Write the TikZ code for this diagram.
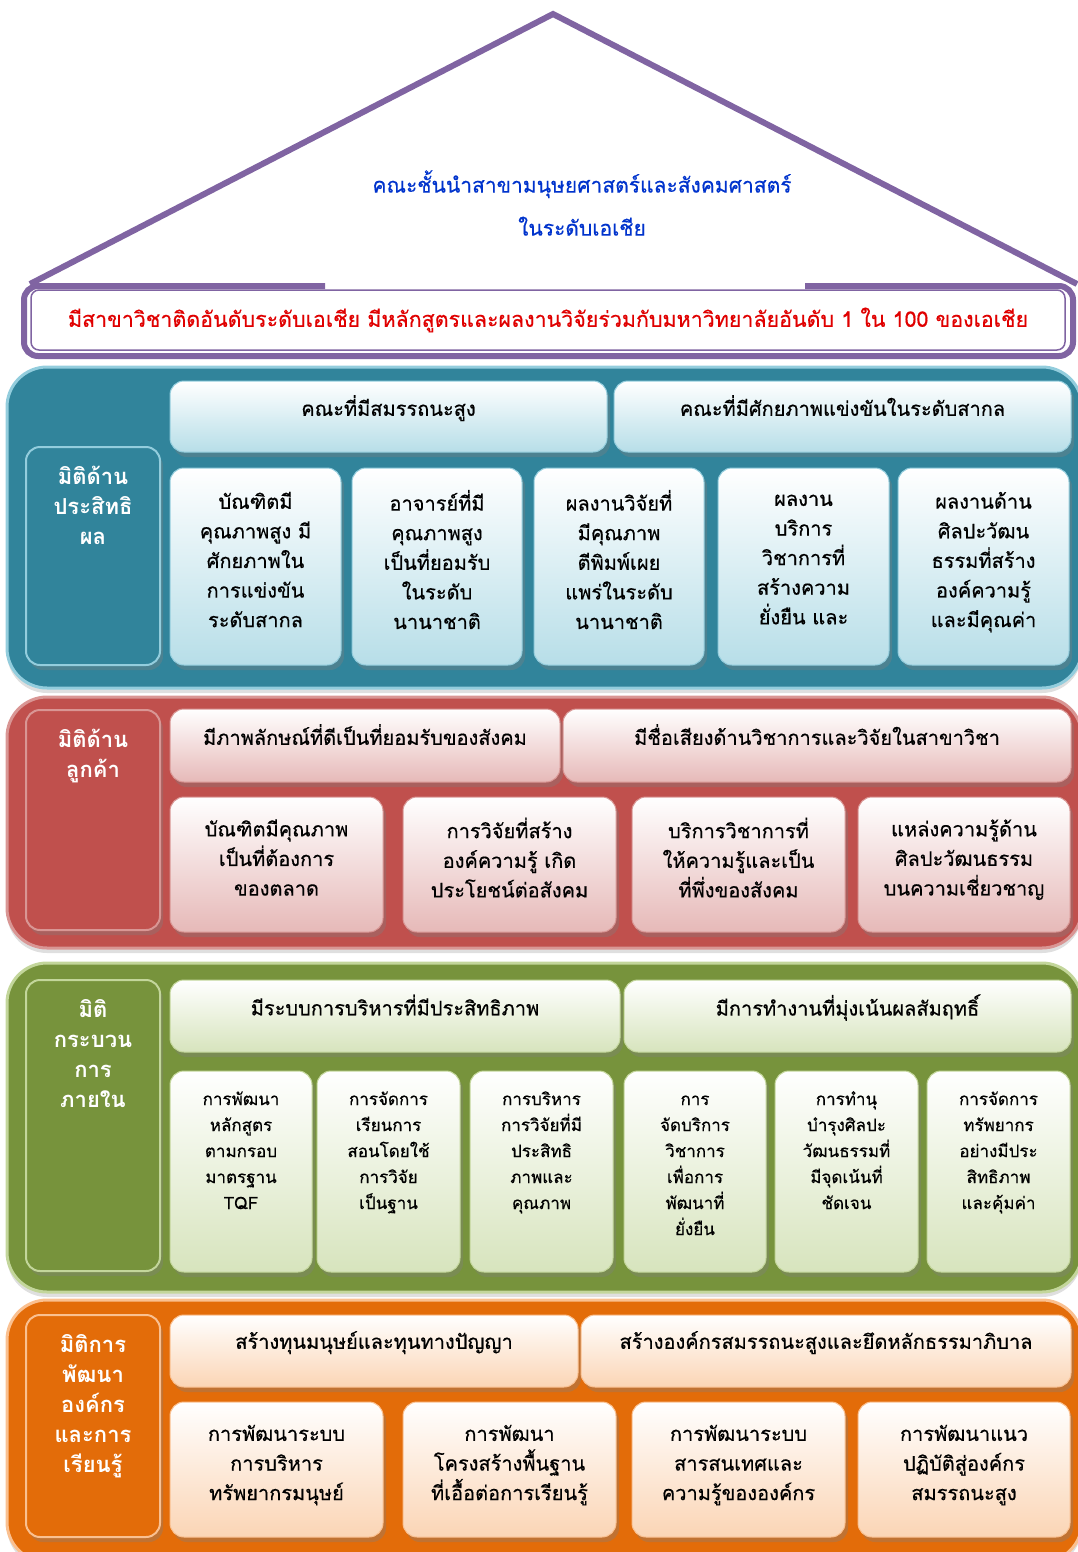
\documentclass[tikz,border=0pt]{standalone}
\usepackage{fontspec}
\newfontfamily\thaifont[Script=Thai]{Loma}
\newfontfamily\thaitxt[Script=Thai,FakeBold=0.5]{Loma}
\usetikzlibrary{positioning}
\usetikzlibrary{shadows}

\definecolor{purp}{HTML}{8064A2}
\definecolor{ttl}{HTML}{0033CC}
\definecolor{rtxt}{HTML}{E00000}
\definecolor{bB}{HTML}{31849B}
\definecolor{bL}{HTML}{B7DEE8}
\definecolor{bE}{HTML}{93CDDD}
\definecolor{rB}{HTML}{C0504D}
\definecolor{rL}{HTML}{E6B9B8}
\definecolor{rE}{HTML}{D99694}
\definecolor{gB}{HTML}{77933C}
\definecolor{gL}{HTML}{D7E4BD}
\definecolor{gE}{HTML}{C3D69B}
\definecolor{oB}{HTML}{E36C09}
\definecolor{oL}{HTML}{FBD5B5}
\definecolor{oE}{HTML}{FAC090}

\newcommand{\fst}{\rule{0pt}{20pt}}
\newcommand{\gst}{\rule{0pt}{17pt}}

\begin{document}
\begin{tikzpicture}[x=1pt,y=-1pt,
  roof/.style={draw=purp,line width=6pt},
  vision/.style={align=center,text=ttl,font=\thaitxt\fontsize{21}{43}\selectfont},
  goal/.style={draw=purp,line width=1.5pt,fill=white,rounded corners=8pt,text=rtxt,font=\thaitxt\fontsize{21.4}{24}\selectfont},
  band/.style={rounded corners=40pt,line width=3pt,drop shadow={shadow xshift=0pt,shadow yshift=-5pt,opacity=0.25}},
  panel/.style={rounded corners=14pt,line width=2pt,minimum width=134pt,drop shadow={shadow xshift=3pt,shadow yshift=-5pt,opacity=0.35}},
  lbl/.style={align=center,text=white,font=\thaifont\bfseries\fontsize{22}{30}\selectfont},
  box/.style={rounded corners=14pt,line width=1pt,align=center,drop shadow={shadow xshift=3pt,shadow yshift=-5pt,opacity=0.35},font=\thaitxt\fontsize{20}{29.6}\selectfont,execute at end node={\rule[-14pt]{0pt}{0pt}}},
  hdr/.style={execute at end node={\rule[-22pt]{0pt}{0pt}}},
  boxB/.style={box,top color=white,bottom color=bL,draw=bE},
  boxR/.style={box,top color=white,bottom color=rL,draw=rE},
  boxG/.style={box,top color=white,bottom color=gL,draw=gE},
  boxO/.style={box,top color=white,bottom color=oL,draw=oE},
  gtxt/.style={align=center,font=\thaitxt\fontsize{17}{26}\selectfont}]
\useasboundingbox (0,0) rectangle (1077,1552);

% roof and goal
\coordinate (apex) at (553,14);
\coordinate (eaveL) at (30,284);
\coordinate (eaveR) at (1077,284);
\draw[roof] (eaveL) -- (apex) -- (eaveR);
\node[vision] (vision) at (582,203) {คณะชั้นนำสาขามนุษยศาสตร์และสังคมศาสตร์\\ในระดับเอเชีย};
\draw[roof,rounded corners=14pt] (325,286) -- (24,286) -- (24,356) -- (1073,356) -- (1073,286) -- (805,286);
\node[goal,minimum width=1034pt,minimum height=60pt] (target) at (548,320) {มีสาขาวิชาติดอันดับระดับเอเชีย มีหลักสูตรและผลงานวิจัยร่วมกับมหาวิทยาลัยอันดับ 1 ใน 100 ของเอเชีย};

% effectiveness
\node[band,fill=bB,draw=bE,minimum width=1075pt,minimum height=321pt] (d1) at (544.5,527.5) {};
\node[panel,fill=bB,draw=bE,minimum height=218pt] (p1) at (93,556) {};
\node[lbl,below=15pt of p1.north] (p1t) {\fst มิติด้าน\\ประสิทธิ\\ผล};
\node[boxB,hdr,minimum width=437pt,minimum height=71pt] (h11) at (388.5,416.5) {คณะที่มีสมรรถนะสูง};
\node[boxB,hdr,minimum width=457pt,minimum height=71pt] (h12) at (842.5,416.5) {คณะที่มีศักยภาพแข่งขันในระดับสากล};
\node[boxB,minimum width=171pt,minimum height=197pt] (b11) at (255.5,566.5) {บัณฑิตมี\\คุณภาพสูง มี\\ศักยภาพใน\\การแข่งขัน\\ระดับสากล};
\node[boxB,minimum width=170pt,minimum height=197pt] (b12) at (437,566.5) {อาจารย์ที่มี\\คุณภาพสูง\\เป็นที่ยอมรับ\\ในระดับ\\นานาชาติ};
\node[boxB,minimum width=170pt,minimum height=197pt] (b13) at (619,566.5) {ผลงานวิจัยที่\\มีคุณภาพ\\ตีพิมพ์เผย\\แพร่ในระดับ\\นานาชาติ};
\node[boxB,minimum width=171pt,minimum height=197pt] (b14) at (803.5,566.5) {ผลงาน\\บริการ\\วิชาการที่\\สร้างความ\\ยั่งยืน และ};
\node[boxB,minimum width=171pt,minimum height=197pt] (b15) at (983.5,566.5) {ผลงานด้าน\\ศิลปะวัฒน\\ธรรมที่สร้าง\\องค์ความรู้\\และมีคุณค่า};

% customer
\node[band,fill=rB,draw=rE,minimum width=1075pt,minimum height=251pt] (d2) at (544.5,822.5) {};
\node[panel,fill=rB,draw=rE,minimum height=220pt] (p2) at (93,820) {};
\node[lbl,below=15pt of p2.north] (p2t) {\fst มิติด้าน\\ลูกค้า};
\node[boxR,hdr,minimum width=390pt,minimum height=73pt] (h21) at (365,745.5) {มีภาพลักษณ์ที่ดีเป็นที่ยอมรับของสังคม};
\node[boxR,hdr,minimum width=508pt,minimum height=73pt] (h22) at (817,745.5) {มีชื่อเสียงด้านวิชาการและวิจัยในสาขาวิชา};
\node[boxR,minimum width=213pt,minimum height=135pt] (b21) at (276.5,864.5) {บัณฑิตมีคุณภาพ\\เป็นที่ต้องการ\\ของตลาด};
\node[boxR,minimum width=213pt,minimum height=135pt] (b22) at (509.5,864.5) {การวิจัยที่สร้าง\\องค์ความรู้ เกิด\\ประโยชน์ต่อสังคม};
\node[boxR,minimum width=213pt,minimum height=135pt] (b23) at (738.5,864.5) {บริการวิชาการที่\\ให้ความรู้และเป็น\\ที่พึ่งของสังคม};
\node[boxR,minimum width=212pt,minimum height=135pt] (b24) at (964,864.5) {แหล่งความรู้ด้าน\\ศิลปะวัฒนธรรม\\บนความเชี่ยวชาญ};

% internal process
\node[band,fill=gB,draw=gE,minimum width=1075pt,minimum height=329pt] (d3) at (544.5,1127.5) {};
\node[panel,fill=gB,draw=gE,minimum height=291pt] (p3) at (93,1125.5) {};
\node[lbl,below=15pt of p3.north] (p3t) {\fst มิติ\\กระบวน\\การ\\ภายใน};
\node[boxG,hdr,minimum width=450pt,minimum height=72pt] (h31) at (395,1016) {มีระบบการบริหารที่มีประสิทธิภาพ};
\node[boxG,hdr,minimum width=447pt,minimum height=72pt] (h32) at (847.5,1016) {มีการทำงานที่มุ่งเน้นผลสัมฤทธิ์};
\node[boxG,minimum width=142pt,minimum height=201pt] (b31) at (241,1171.5) {};
\node[boxG,minimum width=143pt,minimum height=201pt] (b32) at (388.5,1171.5) {};
\node[boxG,minimum width=143pt,minimum height=201pt] (b33) at (541.5,1171.5) {};
\node[boxG,minimum width=142pt,minimum height=201pt] (b34) at (695,1171.5) {};
\node[boxG,minimum width=143pt,minimum height=201pt] (b35) at (846.5,1171.5) {};
\node[boxG,minimum width=143pt,minimum height=201pt] (b36) at (998.5,1171.5) {};
\node[gtxt,below=14pt of b31.north] (b31t) {\gst การพัฒนา\\หลักสูตร\\ตามกรอบ\\มาตรฐาน\\TQF};
\node[gtxt,below=14pt of b32.north] (b32t) {\gst การจัดการ\\เรียนการ\\สอนโดยใช้\\การวิจัย\\เป็นฐาน};
\node[gtxt,below=14pt of b33.north] (b33t) {\gst การบริหาร\\การวิจัยที่มี\\ประสิทธิ\\ภาพและ\\คุณภาพ};
\node[gtxt,below=14pt of b34.north] (b34t) {\gst การ\\จัดบริการ\\วิชาการ\\เพื่อการ\\พัฒนาที่\\ยั่งยืน};
\node[gtxt,below=14pt of b35.north] (b35t) {\gst การทำนุ\\บำรุงศิลปะ\\วัฒนธรรมที่\\มีจุดเน้นที่\\ชัดเจน};
\node[gtxt,below=14pt of b36.north] (b36t) {\gst การจัดการ\\ทรัพยากร\\อย่างมีประ\\สิทธิภาพ\\และคุ้มค่า};

% learning and growth
\node[band,fill=oB,draw=oE,minimum width=1075pt,minimum height=262pt] (d4) at (544.5,1431) {};
\node[panel,fill=oB,draw=oE,minimum height=222pt] (p4) at (93,1426) {};
\node[lbl,below=15pt of p4.north] (p4t) {\fst มิติการ\\พัฒนา\\องค์กร\\และการ\\เรียนรู้};
\node[boxO,hdr,minimum width=408pt,minimum height=72pt] (h41) at (374,1351) {สร้างทุนมนุษย์และทุนทางปัญญา};
\node[boxO,hdr,minimum width=490pt,minimum height=72pt] (h42) at (826,1351) {สร้างองค์กรสมรรถนะสูงและยึดหลักธรรมาภิบาล};
\node[boxO,minimum width=213pt,minimum height=135pt] (b41) at (276.5,1469.5) {การพัฒนาระบบ\\การบริหาร\\ทรัพยากรมนุษย์};
\node[boxO,minimum width=213pt,minimum height=135pt] (b42) at (509.5,1469.5) {การพัฒนา\\โครงสร้างพื้นฐาน\\ที่เอื้อต่อการเรียนรู้};
\node[boxO,minimum width=213pt,minimum height=135pt] (b43) at (738.5,1469.5) {การพัฒนาระบบ\\สารสนเทศและ\\ความรู้ขององค์กร};
\node[boxO,minimum width=212pt,minimum height=135pt] (b44) at (964,1469.5) {การพัฒนาแนว\\ปฏิบัติสู่องค์กร\\สมรรถนะสูง};
\end{tikzpicture}
\end{document}
